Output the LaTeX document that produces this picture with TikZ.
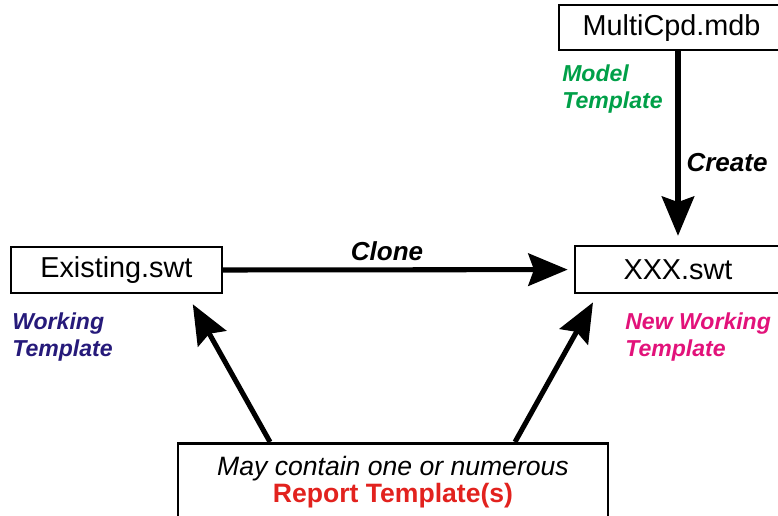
\documentclass[tikz,border=0pt]{standalone}
\usepackage{fontspec}
\setmainfont{Liberation Sans}
\usetikzlibrary{arrows.meta}

\definecolor{modelgreen}{RGB}{0,160,72}
\definecolor{workblue}{RGB}{38,26,122}
\definecolor{newmagenta}{RGB}{226,18,122}
\definecolor{reportred}{RGB}{226,34,30}

\begin{document}
\begin{tikzpicture}[
  filebox/.style={draw, line width=1.8pt, fill=white, inner sep=0pt, font=\fontsize{20.5}{23}\selectfont},
  tag/.style={align=left, anchor=west, inner sep=0pt, font=\fontsize{16.4}{19.2}\selectfont\bfseries\itshape},
  verb/.style={inner sep=0pt, font=\fontsize{18.5}{22}\selectfont\bfseries\itshape},
  flow/.style={line width=3.6pt, -{Stealth[length=28pt, width=23pt, inset=4pt]}}]
\useasboundingbox (0,0) rectangle (19.45,12.9);

\node[filebox, minimum width=5.625cm, minimum height=1.125cm] (multi) at (16.79,12.21) {MultiCpd.mdb};
\node[filebox, minimum width=5.275cm, minimum height=1.15cm] (existing) at (2.91,6.15) {Existing.swt};
\node[filebox, minimum width=5.15cm, minimum height=1.175cm] (xxx) at (16.95,6.16) {XXX.swt};
\node[filebox, minimum width=10.75cm, minimum height=2.5cm, anchor=north] (report) at (9.825,1.85) {};
\node[align=center, inner sep=0pt, font=\fontsize{18.9}{19.2}\selectfont] (reporttext) at (9.825,0.85)
  {\itshape May contain one or numerous\\ \color{reportred}\bfseries Report Template(s)};

\node[tag, text=modelgreen] (model) at (14.05,10.665) {Model\\Template};
\node[tag, text=workblue] (working) at (0.3,4.48) {Working\\Template};
\node[tag, text=newmagenta] (newworking) at (15.625,4.48) {New Working\\Template};
\node[verb] (create) at (18.175,8.825) {Create};
\node[verb] (clone) at (9.675,6.625) {Clone};

\draw[flow, shorten >=6.4pt] (xxx.north |- multi.south) -- (xxx.north);
\draw[flow, shorten >=4.3pt] (existing.east) -- (xxx.west);
\draw[flow] ([xshift=-3.075cm]report.north) -- ([xshift=1.91cm, yshift=-0.25cm]existing.south);
\draw[flow] ([xshift=3.05cm]report.north) -- ([xshift=-2.125cm, yshift=-0.2cm]xxx.south);
\end{tikzpicture}
\end{document}
